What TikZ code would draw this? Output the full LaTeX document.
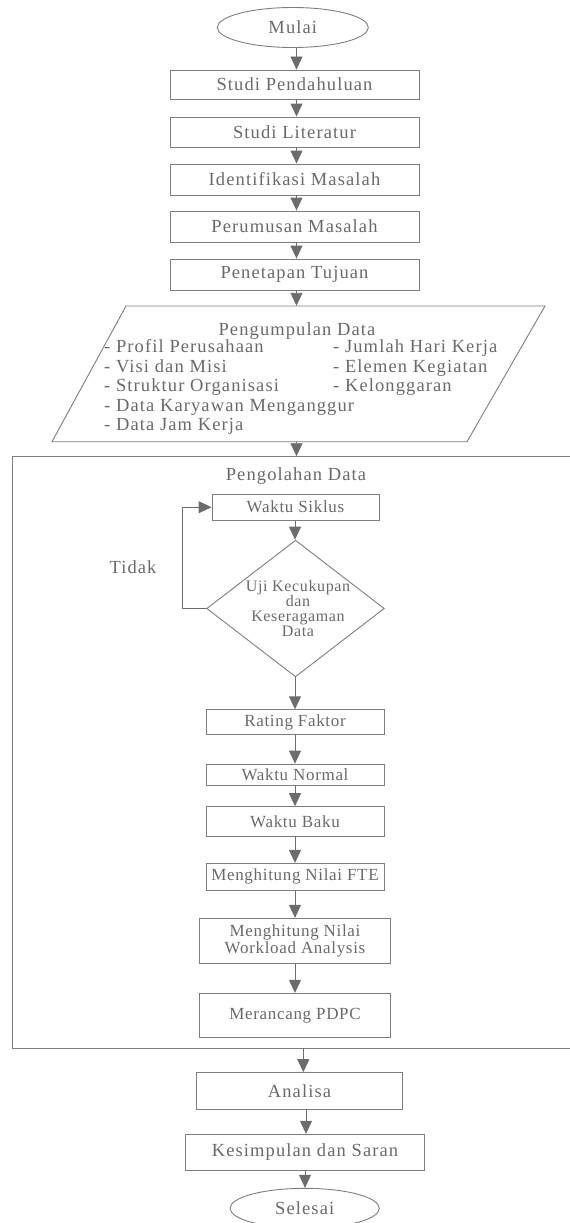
\documentclass[tikz,border=0pt]{standalone}
\usepackage{fontspec}
\setmainfont{Liberation Serif}
\newfontfamily\fa[LetterSpace=6]{Liberation Serif}
\newfontfamily\fb[LetterSpace=4]{Liberation Serif}
\usetikzlibrary{shapes.geometric,arrows.meta}
\definecolor{lc}{RGB}{125,125,125}
\definecolor{ac}{RGB}{108,108,108}
\definecolor{tc}{RGB}{105,105,105}
\tikzset{
  ln/.style={draw=lc, line width=0.9pt},
  fbig/.style={font=\fa\fontsize{18.5}{19.5}\selectfont},
  fsmall/.style={font=\fb\fontsize{17}{17}\selectfont},
  fdia/.style={font=\fb\fontsize{16}{15}\selectfont},
  box/.style={ln, rectangle, inner sep=0pt, text=tc, align=center},
  ell/.style={ln, ellipse, inner sep=0pt, text=tc, fbig},
  txt/.style={text=tc, inner sep=0pt},
  arr/.style={draw=ac, line width=0.9pt, -{Triangle[length=13pt,width=12pt,fill=ac]}}
}
\begin{document}
\begin{tikzpicture}[x=1pt,y=-1pt]
\useasboundingbox (0,0) rectangle (570,1223);
\clip (0,0) rectangle (570,1223);
% column guides
\coordinate (cx) at (296.5,0);
\coordinate (cy) at (295,0);
% top column
\node[ell, minimum width=151pt, minimum height=40pt] (mulai) at (292.8,27.5) {Mulai};
\node[box, fbig, minimum width=249pt, minimum height=29pt] (sp) at (294.5,84.5) {Studi Pendahuluan};
\node[box, fbig, minimum width=249pt, minimum height=30pt] (sl) at (294.5,132) {Studi Literatur};
\node[box, fbig, minimum width=249pt, minimum height=31pt] (im) at (294.5,179.5) {Identifikasi Masalah};
\node[box, fbig, minimum width=249pt, minimum height=31pt] (pm) at (294.5,226.5) {Perumusan Masalah};
\node[box, fbig, minimum width=249pt, minimum height=31pt] (pt) at (294.5,274.5) {Penetapan Tujuan};
% data collection parallelogram
\node[inner sep=0pt, minimum width=340pt, minimum height=135.7pt] (data) at (297.5,373.85) {};
\draw[ln] (126,306) -- (545,306) -- (467,441.7) -- (52,441.7) -- cycle;
\node[txt, fbig, anchor=base] (dtitle) at (297,335.7) {Pengumpulan Data};
\node[txt, fbig, anchor=base west] (d1) at (104,352.5) {- Profil Perusahaan};
\node[txt, fbig, anchor=base west] (d2) at (104,372) {- Visi dan Misi};
\node[txt, fbig, anchor=base west] (d3) at (104,391.5) {- Struktur Organisasi};
\node[txt, fbig, anchor=base west] (d4) at (104,411) {- Data Karyawan Menganggur};
\node[txt, fbig, anchor=base west] (d5) at (104,430.5) {- Data Jam Kerja};
\node[txt, fbig, anchor=base west] (d6) at (333,352.5) {- Jumlah Hari Kerja};
\node[txt, fbig, anchor=base west] (d7) at (333,372) {- Elemen Kegiatan};
\node[txt, fbig, anchor=base west] (d8) at (333,391.5) {- Kelonggaran};
% processing container
\node[ln, rectangle, inner sep=0pt, minimum width=567.3pt, minimum height=591.3pt] (proc) at (296.35,752.35) {};
\node[txt, fbig] (ptitle) at (296,476) {Pengolahan Data};
\node[box, fsmall, minimum width=167pt, minimum height=25.7pt] (ws) at (295.5,507.2) {Waktu Siklus};
\node[ln, diamond, inner sep=0pt, minimum width=177.6pt, minimum height=136.7pt] (dia) at (295.5,608.5) {};
\node[txt, fdia, align=center] (diat) at (298,609) {Uji Kecukupan\\dan\\Keseragaman\\Data};
\node[txt, fbig] (tidak) at (133,567) {Tidak};
\node[box, fsmall, minimum width=178pt, minimum height=24.5pt] (rf) at (295,722) {Rating Faktor};
\node[box, fsmall, minimum width=178pt, minimum height=21.7pt] (wn) at (295,774.9) {Waktu Normal};
\node[box, fsmall, minimum width=178pt, minimum height=29.3pt] (wb) at (295,821.3) {Waktu Baku};
\node[box, fsmall, minimum width=178pt, minimum height=26.7pt] (fte) at (295,876.7) {Menghitung Nilai FTE};
\node[box, fsmall, minimum width=191.4pt, minimum height=45pt] (wa) at (295,940.8) {Menghitung Nilai\\Workload Analysis};
\node[box, fsmall, minimum width=191.4pt, minimum height=44.4pt] (pdpc) at (295,1015.5) {Merancang PDPC};
% bottom column
\node[box, fbig, minimum width=205.6pt, minimum height=36.3pt] (ana) at (299.5,1090.8) {Analisa};
\node[box, fbig, minimum width=238.6pt, minimum height=36.4pt] (kes) at (305,1152.5) {Kesimpulan dan Saran};
\node[ell, minimum width=149.3pt, minimum height=40pt] (sel) at (304.7,1208.3) {Selesai};
\coordinate (bx1) at (303.3,0);
\coordinate (bx2) at (306,0);
\coordinate (bx3) at (305,0);
% connectors
\draw[arr] (mulai.south -| cx) -- (sp.north -| cx);
\draw[arr] (sp.south -| cx) -- (sl.north -| cx);
\draw[arr] (sl.south -| cx) -- (im.north -| cx);
\draw[arr] (im.south -| cx) -- (pm.north -| cx);
\draw[arr] (pm.south -| cx) -- (pt.north -| cx);
\draw[arr] (pt.south -| cx) -- (data.north -| cx);
\draw[arr] (data.south -| cx) -- (proc.north -| cx);
\draw[arr] (ws.south -| cy) -- (dia.north -| cy);
\draw[arr] (dia.west) -- ++(-23.4,0) |- (ws.west);
\draw[arr] (dia.south -| cy) -- (rf.north -| cy);
\draw[arr] (rf.south -| cy) -- (wn.north -| cy);
\draw[arr] (wn.south -| cy) -- (wb.north -| cy);
\draw[arr] (wb.south -| cy) -- (fte.north -| cy);
\draw[arr] (fte.south -| cy) -- (wa.north -| cy);
\draw[arr] (wa.south -| cy) -- (pdpc.north -| cy);
\draw[arr] (proc.south -| bx1) -- (ana.north -| bx1);
\draw[arr] (ana.south -| bx2) -- (kes.north -| bx2);
\draw[arr] (kes.south -| bx3) -- (sel.north -| bx3);
\end{tikzpicture}
\end{document}
